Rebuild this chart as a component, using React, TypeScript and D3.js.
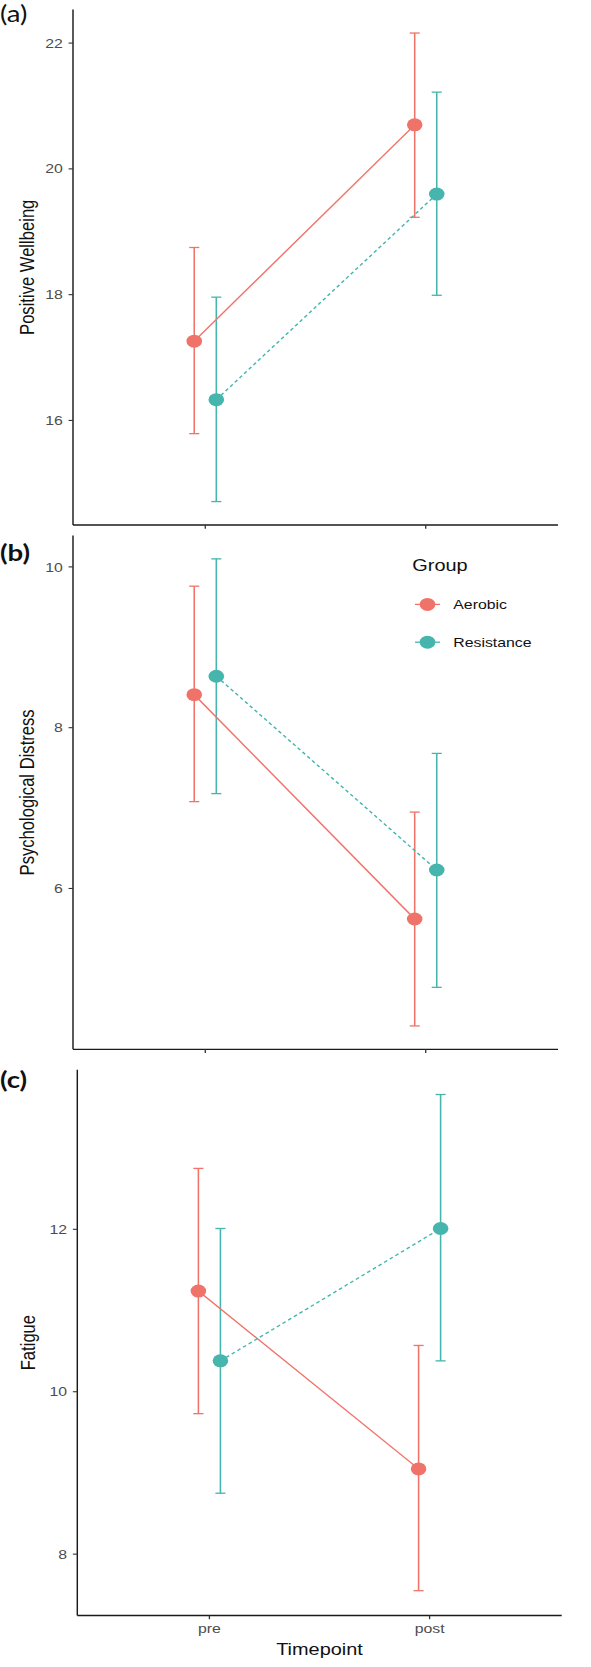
import * as d3 from 'd3';

const TIMEPOINTS = ['pre', 'post'];
const GROUPS = ['Aerobic', 'Resistance'];
const COLORS = ['#F0736A', '#45B5AE'];

// rows = group (Aerobic, Resistance), columns = timepoint (pre, post)
const WELLBEING_MEAN = [[17.26, 20.7], [16.33, 19.6]];
const WELLBEING_LOW = [[15.79, 19.23], [14.71, 17.99]];
const WELLBEING_HIGH = [[18.75, 22.16], [17.96, 21.22]];
const WELLBEING_TICKS = [16, 18, 20, 22];

const DISTRESS_MEAN = [[8.41, 5.62], [8.64, 6.23]];
const DISTRESS_LOW = [[7.08, 4.29], [7.18, 4.77]];
const DISTRESS_HIGH = [[9.76, 6.95], [10.1, 7.68]];
const DISTRESS_TICKS = [6, 8, 10];

const FATIGUE_MEAN = [[11.24, 9.05], [10.38, 12.01]];
const FATIGUE_LOW = [[9.73, 7.55], [8.75, 10.38]];
const FATIGUE_HIGH = [[12.75, 10.57], [12.01, 13.66]];
const FATIGUE_TICKS = [8, 10, 12];

// the whole figure is drawn horizontally stretched
const SX = 1.2;
const W = 591, H = 1667;
const FONT = "'Liberation Sans', Arial, Helvetica, sans-serif";
const TAG_FONT = "Lato, 'Open Sans', sans-serif";

const PANELS = [
  {
    tag: '(a)', tagY: 22, tagWeight: 400, title: 'Positive Wellbeing', titleX: 34,
    left: 73, right: 558, top: 9.6, bottom: 525,
    mean: WELLBEING_MEAN, low: WELLBEING_LOW, high: WELLBEING_HIGH, ticks: WELLBEING_TICKS,
  },
  {
    tag: '(b)', tagY: 561, tagWeight: 700, title: 'Psychological Distress', titleX: 34,
    left: 73, right: 558, top: 535.5, bottom: 1049.3, legend: true,
    mean: DISTRESS_MEAN, low: DISTRESS_LOW, high: DISTRESS_HIGH, ticks: DISTRESS_TICKS,
  },
  {
    tag: '(c)', tagY: 1088, tagWeight: 700, title: 'Fatigue', titleX: 35,
    left: 77.3, right: 561.7, top: 1069.7, bottom: 1615.5, xLabels: true,
    mean: FATIGUE_MEAN, low: FATIGUE_LOW, high: FATIGUE_HIGH, ticks: FATIGUE_TICKS,
  },
];

function Panel({ p }: { p: any }) {
  const x = d3.scalePoint<string>().domain(TIMEPOINTS).range([p.left / SX, p.right / SX]).padding(0.6);
  const lo = d3.min(p.low.flat() as number[])!;
  const hi = d3.max(p.high.flat() as number[])!;
  const pad = (hi - lo) * 0.05;
  const y = d3.scaleLinear().domain([lo - pad, hi + pad]).range([p.bottom, p.top]);
  const dodge = x.step() * 0.05;
  const gx = (t: number, gi: number) => x(TIMEPOINTS[t])! + (gi === 0 ? -dodge : dodge);
  const cap = 4.2;
  const axL = p.left / SX, axR = p.right / SX;
  const midY = (p.top + p.bottom) / 2;

  return (
    <g>
      {/* panel tag */}
      <text x={0} y={p.tagY} fontFamily={TAG_FONT} fontSize={23} fontWeight={p.tagWeight} fill="#111">{p.tag}</text>

      {/* error bars */}
      {GROUPS.map((g, gi) => (
        <g key={g} stroke={COLORS[gi]} strokeWidth={1.3} fill="none">
          {TIMEPOINTS.map((t, ti) => {
            const cx = gx(ti, gi);
            const y0 = y(p.low[gi][ti]), y1 = y(p.high[gi][ti]);
            return (
              <g key={t}>
                <line x1={cx} x2={cx} y1={y0} y2={y1} />
                <line x1={cx - cap} x2={cx + cap} y1={y0} y2={y0} />
                <line x1={cx - cap} x2={cx + cap} y1={y1} y2={y1} />
              </g>
            );
          })}
        </g>
      ))}

      {/* group lines */}
      {GROUPS.map((g, gi) => {
        const path = d3.line<number>().x((_, i) => gx(i, gi)).y((d) => y(d))(p.mean[gi]);
        return (
          <path key={g} d={path!} fill="none" stroke={COLORS[gi]} strokeWidth={1.3}
            strokeDasharray={gi === 1 ? '3.2,2.6' : undefined} />
        );
      })}

      {/* points */}
      {GROUPS.map((g, gi) =>
        TIMEPOINTS.map((t, ti) => (
          <circle key={g + t} cx={gx(ti, gi)} cy={y(p.mean[gi][ti])} r={6.5} fill={COLORS[gi]} />
        ))
      )}

      {/* axes */}
      <line x1={axL} x2={axL} y1={p.top} y2={p.bottom} stroke="#1a1a1a" strokeWidth={1.2} />
      <line x1={axL} x2={axR} y1={p.bottom} y2={p.bottom} stroke="#1a1a1a" strokeWidth={1.3} />
      {p.ticks.map((v: number) => (
        <g key={v}>
          <line x1={axL - 3.7} x2={axL} y1={y(v)} y2={y(v)} stroke="#333" strokeWidth={1.1} />
          <text x={axL - 8.5} y={y(v)} dy="0.35em" textAnchor="end" fontSize={13.2} fill="#4D4D4D" fontFamily={FONT}>{v}</text>
        </g>
      ))}
      {TIMEPOINTS.map((t) => (
        <g key={t}>
          <line x1={x(t)} x2={x(t)} y1={p.bottom} y2={p.bottom + 3.7} stroke="#333" strokeWidth={1.1} />
          {p.xLabels && (
            <text x={x(t)} y={p.bottom + 17.8} textAnchor="middle" fontSize={13.2} fill="#4D4D4D" fontFamily={FONT}>{t}</text>
          )}
        </g>
      ))}

      {/* y title */}
      <text transform={`translate(${p.titleX / SX},${midY}) rotate(-90)`} textAnchor="middle" fontSize={16.6} fill="#111" fontFamily={FONT}>{p.title}</text>

      {p.xLabels && (
        <text x={(axL + axR) / 2} y={p.bottom + 39.5} textAnchor="middle" fontSize={16.6} fill="#111" fontFamily={FONT}>Timepoint</text>
      )}

      {p.legend && (
        <g fontFamily={FONT}>
          <text x={412.3 / SX} y={571.5} fontSize={16.6} fill="#111">Group</text>
          {GROUPS.map((g, gi) => {
            const cy = gi === 0 ? 604.4 : 642.2;
            return (
              <g key={g}>
                <line x1={415 / SX} x2={440 / SX} y1={cy} y2={cy} stroke={COLORS[gi]} strokeWidth={1.3} />
                <circle cx={427.5 / SX} cy={cy} r={6.5} fill={COLORS[gi]} />
                <text x={453.3 / SX} y={cy} dy="0.35em" fontSize={13.2} fill="#111">{g}</text>
              </g>
            );
          })}
        </g>
      )}
    </g>
  );
}

export default function App() {
  return (
    <div style={{ position: 'absolute', left: 0, top: 0, background: '#fff' }}>
      <svg width={W} height={H} style={{ display: 'block' }}>
        <rect width={W} height={H} fill="#fff" />
        <g transform={`scale(${SX},1)`}>
          {PANELS.map((p) => (
            <Panel key={p.tag} p={p} />
          ))}
        </g>
      </svg>
    </div>
  );
}
